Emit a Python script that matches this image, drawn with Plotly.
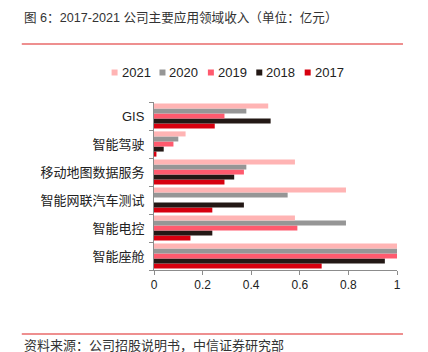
import plotly.graph_objects as go

categories = ["智能座舱", "智能电控", "智能网联汽车测试", "移动地图数据服务", "智能驾驶", "GIS"]
years = ["2017", "2018", "2019", "2020", "2021"]
v2017 = [0.69, 0.15, 0.24, 0.29, 0.01, 0.25]
v2018 = [0.95, 0.24, 0.37, 0.33, 0.04, 0.48]
v2019 = [1.00, 0.59, 0.00, 0.37, 0.08, 0.29]
v2020 = [1.00, 0.79, 0.55, 0.38, 0.10, 0.38]
v2021 = [1.00, 0.58, 0.79, 0.58, 0.13, 0.47]
colors = ["#D7000F", "#231815", "#FF5A6E", "#969696", "#FFB4B4"]
tick_vals = [0, 0.2, 0.4, 0.6, 0.8, 1]
tick_text = ["0", "0.2", "0.4", "0.6", "0.8", "1"]

series = [v2017, v2018, v2019, v2020, v2021]
FONT = "Liberation Sans, Arial, Noto Sans CJK SC, sans-serif"

fig = go.Figure()
for y, vals, c in zip(years, series, colors):
    fig.add_trace(go.Bar(
        y=categories, x=vals, name=y, orientation="h",
        marker=dict(color=c, line=dict(width=0)),
    ))

W, H = 428, 352
L, R, T, B = 153.5, 397, 102, 270
pw, ph = R - L, B - T
def px(x): return (x - L) / pw
def py(y): return (B - y) / ph

fig.update_layout(
    width=W, height=H,
    margin=dict(l=L, r=W - R, t=T, b=H - B),
    paper_bgcolor="white", plot_bgcolor="white",
    barmode="group", bargap=0.1, bargroupgap=0,
    font=dict(family=FONT, size=12, color="#222222"),
    showlegend=False,
    xaxis=dict(range=[0, 1], tickvals=tick_vals, ticktext=tick_text,
               showgrid=False, zeroline=False, showline=True,
               linecolor="#8c8c8c", linewidth=1,
               ticks="outside", ticklen=4, tickcolor="#8c8c8c",
               tickfont=dict(size=12, color="#222222")),
    yaxis=dict(showgrid=False, zeroline=False, showline=True,
               linecolor="#8c8c8c", linewidth=1,
               ticks="outside", ticklen=4, tickcolor="#8c8c8c",
               tickson="boundaries", ticklabelstandoff=6,
               tickfont=dict(size=13, color="#222222")),
)

# legend (drawn manually, newest year first)
leg_left = [111, 159, 207.5, 256, 304.5]
for i, idx in enumerate(range(len(years) - 1, -1, -1)):
    x0 = leg_left[i]
    fig.add_shape(type="rect", xref="paper", yref="paper",
                  x0=px(x0), x1=px(x0 + 6), y0=py(69.5), y1=py(75.5),
                  line=dict(width=0), fillcolor=colors[idx])
    fig.add_annotation(text=years[idx], xref="paper", yref="paper",
                       x=px(x0 + 8), y=py(72.5), xanchor="left", yanchor="middle",
                       showarrow=False, font=dict(size=13, color="#222222"))

fig.add_annotation(text="图 6：2017-2021 公司主要应用领域收入（单位：亿元）",
                   xref="paper", yref="paper", x=px(21), y=py(17),
                   xanchor="left", yanchor="middle", showarrow=False,
                   font=dict(size=12.6, color="#333333"))
fig.add_annotation(text="资料来源：公司招股说明书，中信证券研究部",
                   xref="paper", yref="paper", x=px(21), y=py(345),
                   xanchor="left", yanchor="middle", showarrow=False,
                   font=dict(size=13, color="#333333"))
for yy in (44, 334):
    fig.add_shape(type="line", xref="paper", yref="paper",
                  x0=px(21), x1=px(403), y0=py(yy), y1=py(yy),
                  line=dict(color="#E86A6A", width=1.5))

fig.write_html("out.html")
